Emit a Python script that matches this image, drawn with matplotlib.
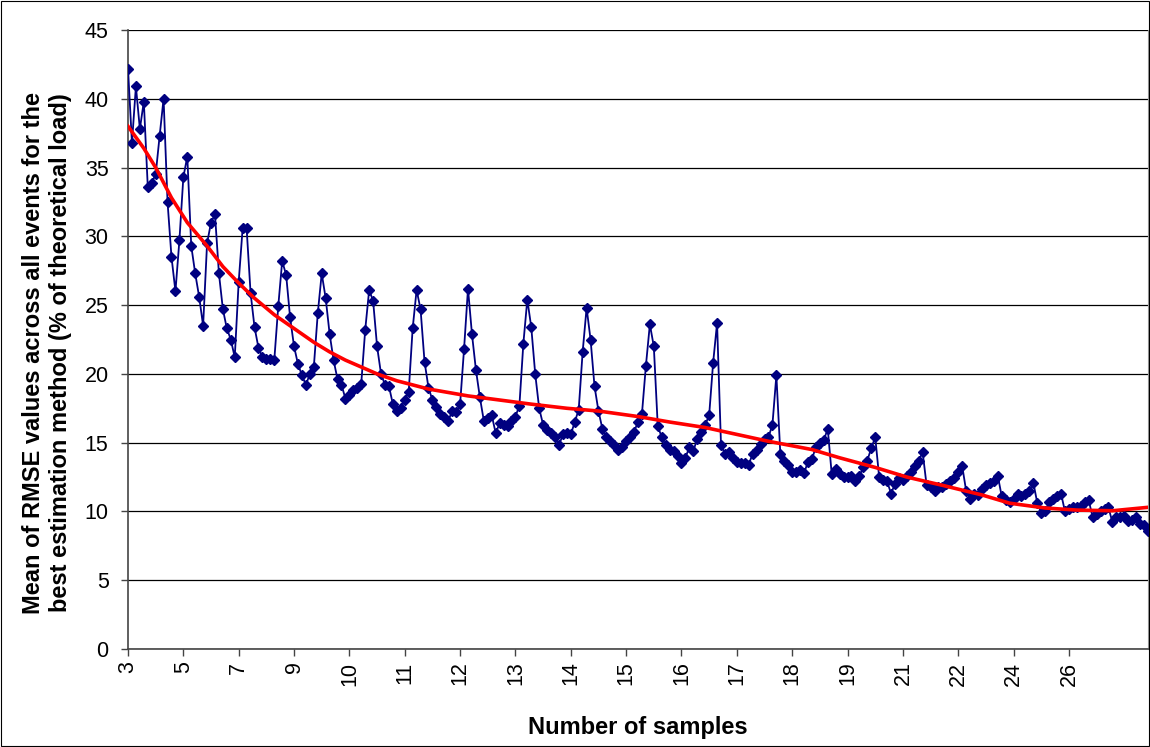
import matplotlib
matplotlib.use("Agg")
import matplotlib.pyplot as plt
import numpy as np

plt.rcParams['font.family'] = ['Liberation Sans', 'DejaVu Sans']

# mean RMSE per sample count (one value per category)
rmse = [42.2, 36.8, 40.9, 37.8, 39.8, 33.6, 33.9, 34.5, 37.3, 40.0, 32.5,
        28.5, 26.0, 29.7, 34.3, 35.8, 29.3, 27.3, 25.6, 23.5, 29.5,
        31.0, 31.6, 27.3, 24.7, 23.3, 22.5, 21.2, 26.7, 30.6, 30.6,
        25.9, 23.4, 21.9, 21.2, 21.1, 21.1, 21.0, 24.9, 28.2, 27.2,
        24.1, 22.0, 20.7, 19.9, 19.2, 20.0, 20.5, 24.4, 27.3, 25.5,
        22.9, 21.0, 19.6, 19.2, 18.2, 18.5, 18.8, 19.0, 19.3, 23.2,
        26.1, 25.3, 22.0, 20.0, 19.2, 19.1, 17.8, 17.3, 17.5, 18.1,
        18.7, 23.3, 26.1, 24.7, 20.9, 19.0, 18.1, 17.6, 17.1, 16.9,
        16.6, 17.3, 17.2, 17.8, 21.8,
        26.2, 22.9, 20.3, 18.3, 16.6, 16.8, 17.0, 15.7, 16.4, 16.3,
        16.2, 16.6, 16.9, 17.7, 22.2, 25.4, 23.4, 20.0, 17.5, 16.3,
        15.9, 15.7, 15.4, 14.8, 15.6, 15.7, 15.6, 16.5, 17.4, 21.6,
        24.8, 22.5, 19.1, 17.3, 16.0, 15.4, 15.1, 14.8, 14.5, 14.7,
        15.1, 15.4, 15.8, 16.5,
        17.1, 20.6, 23.6, 22.0, 16.2, 15.4, 14.8, 14.5, 14.4, 14.0,
        13.5, 13.9, 14.7, 14.4, 15.3, 15.8, 16.3, 17.0, 20.8, 23.7,
        14.8, 14.2, 14.3, 13.9, 13.6, 13.5, 13.5, 13.4, 14.2, 14.5,
        14.9, 15.3, 15.4, 16.3, 19.9, 14.2, 13.7, 13.4, 12.9, 12.9,
        13.0, 12.8, 13.6,
        13.8, 14.7, 15.0, 15.2, 16.0, 12.7, 13.1, 12.7, 12.5,
        12.5, 12.6, 12.2, 12.6, 13.2, 13.7, 14.6, 15.4, 12.5, 12.3,
        12.2, 11.3, 12.0, 12.4, 12.3, 12.6, 12.9, 13.3, 13.7, 14.3,
        11.9, 11.8, 11.5, 11.8, 11.8, 12.0, 12.2, 12.4, 12.9, 13.3,
        11.5, 10.9, 11.3, 11.2,
        11.6, 11.9, 12.1, 12.2, 12.6, 11.1, 10.8, 10.7, 10.9, 11.3,
        11.1, 11.3, 11.5, 12.1, 10.6, 9.9, 10.0, 10.7, 10.9, 11.1,
        11.3, 10.0, 10.2, 10.3, 10.3, 10.4, 10.7, 10.8, 9.6, 9.8,
        10.0, 10.2, 10.3, 9.2, 9.6, 9.6, 9.7, 9.3, 9.4, 9.6,
        9.1, 9.0, 8.6]

# red trend line, read at some categories
trend_idx = [0, 4, 7, 11, 15, 20, 24, 28, 32, 37, 41, 47, 51, 55, 59, 63, 68,
             72, 76, 80, 86, 94, 102, 111, 119, 129, 137, 146, 154, 162, 173,
             180, 189, 197, 206, 216, 223, 232, 240, 249, 258]
trend_val = [38.0, 36.4, 35.0, 32.8, 31.0, 29.3, 27.8, 26.6, 25.5, 24.3, 23.5,
             22.3, 21.6, 21.0, 20.5, 20.0, 19.5, 19.2, 18.9, 18.7, 18.4, 18.1,
             17.8, 17.5, 17.3, 16.9, 16.5, 16.1, 15.6, 15.1, 14.5, 13.9, 13.2,
             12.5, 11.9, 11.2, 10.6, 10.25, 10.1, 10.05, 10.3]

tick_labels = ["3", "5", "7", "9", "10", "11", "12", "13", "14", "15",
               "16", "17", "18", "19", "21", "22", "24", "26"]
label_step = 14

fig = plt.figure(figsize=(11.5, 7.47), dpi=100)
ax = fig.add_axes([128 / 1150, 98 / 747, 1020 / 1150, 619 / 747])

x = np.arange(len(rmse))
ax.plot(x, rmse, color='#000080', lw=1.3, marker='D', ms=4.8,
        mec='#000080', mfc='#000080', zorder=3)
ax.plot(trend_idx, trend_val, color='#ff0000', lw=2.6, zorder=4)

ax.set_xlim(0, len(rmse) - 1)
ax.set_ylim(0, 45)
ax.set_yticks(np.arange(0, 46, 5))
ax.yaxis.grid(True, color='black', lw=0.9)
ax.set_axisbelow(True)

ticks = np.arange(len(tick_labels)) * label_step
ax.set_xticks(ticks)
ax.set_xticklabels(tick_labels, rotation=90)
ax.tick_params(axis='both', labelsize=15.5, length=5, width=1, color='#444444',
               direction='out')
ax.tick_params(axis='y', pad=9)
ax.tick_params(axis='x', pad=4)

for s in ['left', 'bottom']:
    ax.spines[s].set_color('#444444')
    ax.spines[s].set_linewidth(1.2)
ax.spines['right'].set_color('#999999')
ax.spines['top'].set_visible(False)

ax.set_ylabel("Mean of RMSE values across all events for the\n"
              "best estimation method (% of theoretical load)",
              fontsize=17, fontweight='bold', linespacing=1.2)
ax.yaxis.set_label_coords(-0.055, 0.478)
ax.set_xlabel("Number of samples", fontsize=17, fontweight='bold', labelpad=22)

# chart border
fig.patches.append(plt.Rectangle((0.001, 0.001), 0.998, 0.998,
                                 transform=fig.transFigure, fill=False,
                                 edgecolor='black', lw=0.8))

fig.savefig("out.png", dpi=100)
